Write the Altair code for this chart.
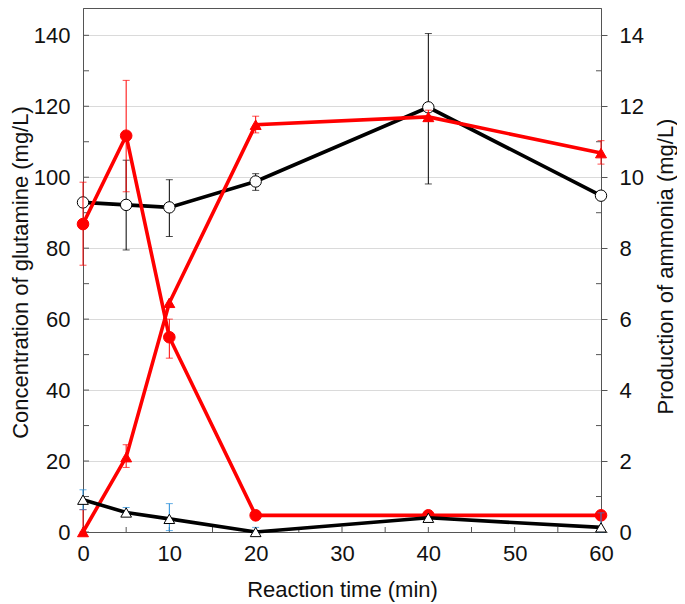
import altair as alt
import pandas as pd

FONT = "Liberation Sans"

time = [0, 5, 10, 20, 40, 60]

# Glutamine (left axis, mg/L)
gln_ctrl = [92.9, 92.2, 91.5, 98.8, 119.7, 94.8]
gln_ctrl_lo = [92.9, 79.5, 83.3, 96.3, 98.1, 94.8]
gln_ctrl_hi = [92.9, 104.8, 99.3, 101.0, 140.5, 94.8]

gln_trt = [86.8, 111.7, 54.9, 4.7, 4.7, 4.7]
gln_trt_lo = [75.2, 95.9, 49.0, 4.7, 4.7, 4.7]
gln_trt_hi = [98.6, 127.3, 60.0, 4.7, 4.7, 4.7]

# Ammonia (right axis, mg/L)
nh3_trt = [0.0, 2.11, 6.46, 11.48, 11.70, 10.68]
nh3_trt_lo = [0.0, 1.82, 6.46, 11.25, 11.58, 10.37]
nh3_trt_hi = [0.63, 2.46, 6.46, 11.72, 11.89, 11.03]

nh3_ctrl = [0.91, 0.55, 0.37, 0.0, 0.40, 0.13]
nh3_ctrl_lo = [0.63, 0.55, 0.04, 0.0, 0.40, 0.0]
nh3_ctrl_hi = [1.19, 0.69, 0.80, 0.13, 0.40, 0.54]

x_ticks = [0, 10, 20, 30, 40, 50, 60]
x_minor = [0, 5, 10, 15, 20, 25, 30, 35, 40, 45, 50, 55, 60]
left_ticks = [0, 20, 40, 60, 80, 100, 120, 140]
left_minor = [10, 30, 50, 70, 90, 110, 130]
right_ticks = [0, 2, 4, 6, 8, 10, 12, 14]
right_minor = [1, 3, 5, 7, 9, 11, 13]

W, H = 518, 524
GL_DOMAIN = [0, 147.7]
NH_DOMAIN = [0, 14.77]

xs = alt.Scale(domain=[0, 60], nice=False, zero=False)
x_enc = alt.X("t:Q", scale=xs, axis=alt.Axis(
    values=x_ticks, title="Reaction time (min)", ticks=False, grid=False,
    labelPadding=11, titlePadding=15, domainColor="#555555", format="d"))

gl_scale = alt.Scale(domain=GL_DOMAIN, nice=False, zero=False)
nh_scale = alt.Scale(domain=NH_DOMAIN, nice=False, zero=False)

gl_axis = alt.Axis(values=left_ticks, title="Concentration of glutamine (mg/L)",
                   ticks=False, grid=True, gridColor="#dadada", gridWidth=1,
                   labelPadding=13, domainColor="#555555",
                   titleAngle=270, titleX=-63, titleY=H / 2 + 2,
                   titleAlign="center", titleBaseline="middle")
nh_axis = alt.Axis(values=right_ticks, title="Production of ammonia (mg/L)",
                   orient="right", ticks=True, tickSize=6, tickColor="#555555",
                   grid=False, labelPadding=12, domainColor="#555555",
                   titleAngle=270, titleX=64, titleY=H / 2 - 4,
                   titleAlign="center", titleBaseline="middle")


def frame(vals, lo, hi):
    return pd.DataFrame({"t": time, "v": vals, "lo": lo, "hi": hi})


def series(df, color, shape, fill, size, scale, axis, err_color, stroke_w=3.5):
    y = alt.Y("v:Q", scale=scale, axis=axis)
    base = alt.Chart(df)
    errdf = df[df["hi"] > df["lo"]]
    eb = alt.Chart(errdf)
    rule = eb.mark_rule(color=err_color, strokeWidth=1).encode(
        x=x_enc, y=alt.Y("lo:Q", scale=scale, axis=axis), y2="hi:Q")
    cap_lo = eb.mark_tick(color=err_color, orient="horizontal", size=7, thickness=1).encode(
        x=x_enc, y=alt.Y("lo:Q", scale=scale, axis=axis))
    cap_hi = eb.mark_tick(color=err_color, orient="horizontal", size=7, thickness=1).encode(
        x=x_enc, y=alt.Y("hi:Q", scale=scale, axis=axis))
    line = base.mark_line(color=color, strokeWidth=stroke_w).encode(x=x_enc, y=y)
    pts = base.mark_point(shape=shape, filled=True, fill=fill, stroke=color,
                          strokeWidth=1, size=size, opacity=1).encode(x=x_enc, y=y)
    return [line, rule, cap_lo, cap_hi, pts]


def tick_rules(vals, scale, axis, x0, x1, field="v"):
    df = pd.DataFrame({field: vals})
    return alt.Chart(df).mark_rule(color="#555555", strokeWidth=1).encode(
        y=alt.Y(f"{field}:Q", scale=scale, axis=axis),
        x=alt.value(x0), x2=alt.value(x1))


xt_df = pd.DataFrame({"t": x_minor})
x_tick_layer = alt.Chart(xt_df).mark_rule(color="#555555", strokeWidth=1).encode(
    x=x_enc, y=alt.value(H), y2=alt.value(H - 5))

gl_layers = (
    [x_tick_layer,
     tick_rules(left_ticks + left_minor, gl_scale, gl_axis, 0, 6)]
    + series(frame(gln_ctrl, gln_ctrl_lo, gln_ctrl_hi), "#000000", "circle", "#ffffff",
             130, gl_scale, gl_axis, "#000000", 3.6)
    + series(frame(gln_trt, gln_trt_lo, gln_trt_hi), "#ff0000", "circle", "#ff0000",
             135, gl_scale, gl_axis, "#ff0000", 3.6)
)
gl = alt.layer(*gl_layers)

nh_layers = (
    [tick_rules(right_minor, nh_scale, nh_axis, W, W - 5)]
    + series(frame(nh3_trt, nh3_trt_lo, nh3_trt_hi), "#ff0000", "triangle-up", "#ff0000",
             120, nh_scale, nh_axis, "#ff0000", 3.6)
    + series(frame(nh3_ctrl, nh3_ctrl_lo, nh3_ctrl_hi), "#000000", "triangle-up", "#ffffff",
             115, nh_scale, nh_axis, "#1f8ad8", 3.6)
)
nh = alt.layer(*nh_layers)

chart = alt.layer(gl, nh).resolve_scale(y="independent").properties(
    width=W, height=H,
    autosize=alt.AutoSizeParams(type="none"),
    padding={"left": 75, "top": 0, "right": 76, "bottom": 71},
    background="#ffffff",
).configure_view(stroke="#555555", strokeWidth=1).configure_axis(
    labelFont=FONT, titleFont=FONT, labelFontSize=22, titleFontSize=22,
    labelColor="#111111", titleColor="#111111", titleFontWeight="normal",
    labelFlush=False, labelOverlap=False,
)

chart.save("out.html", embed_options={"renderer": "svg", "actions": False})
